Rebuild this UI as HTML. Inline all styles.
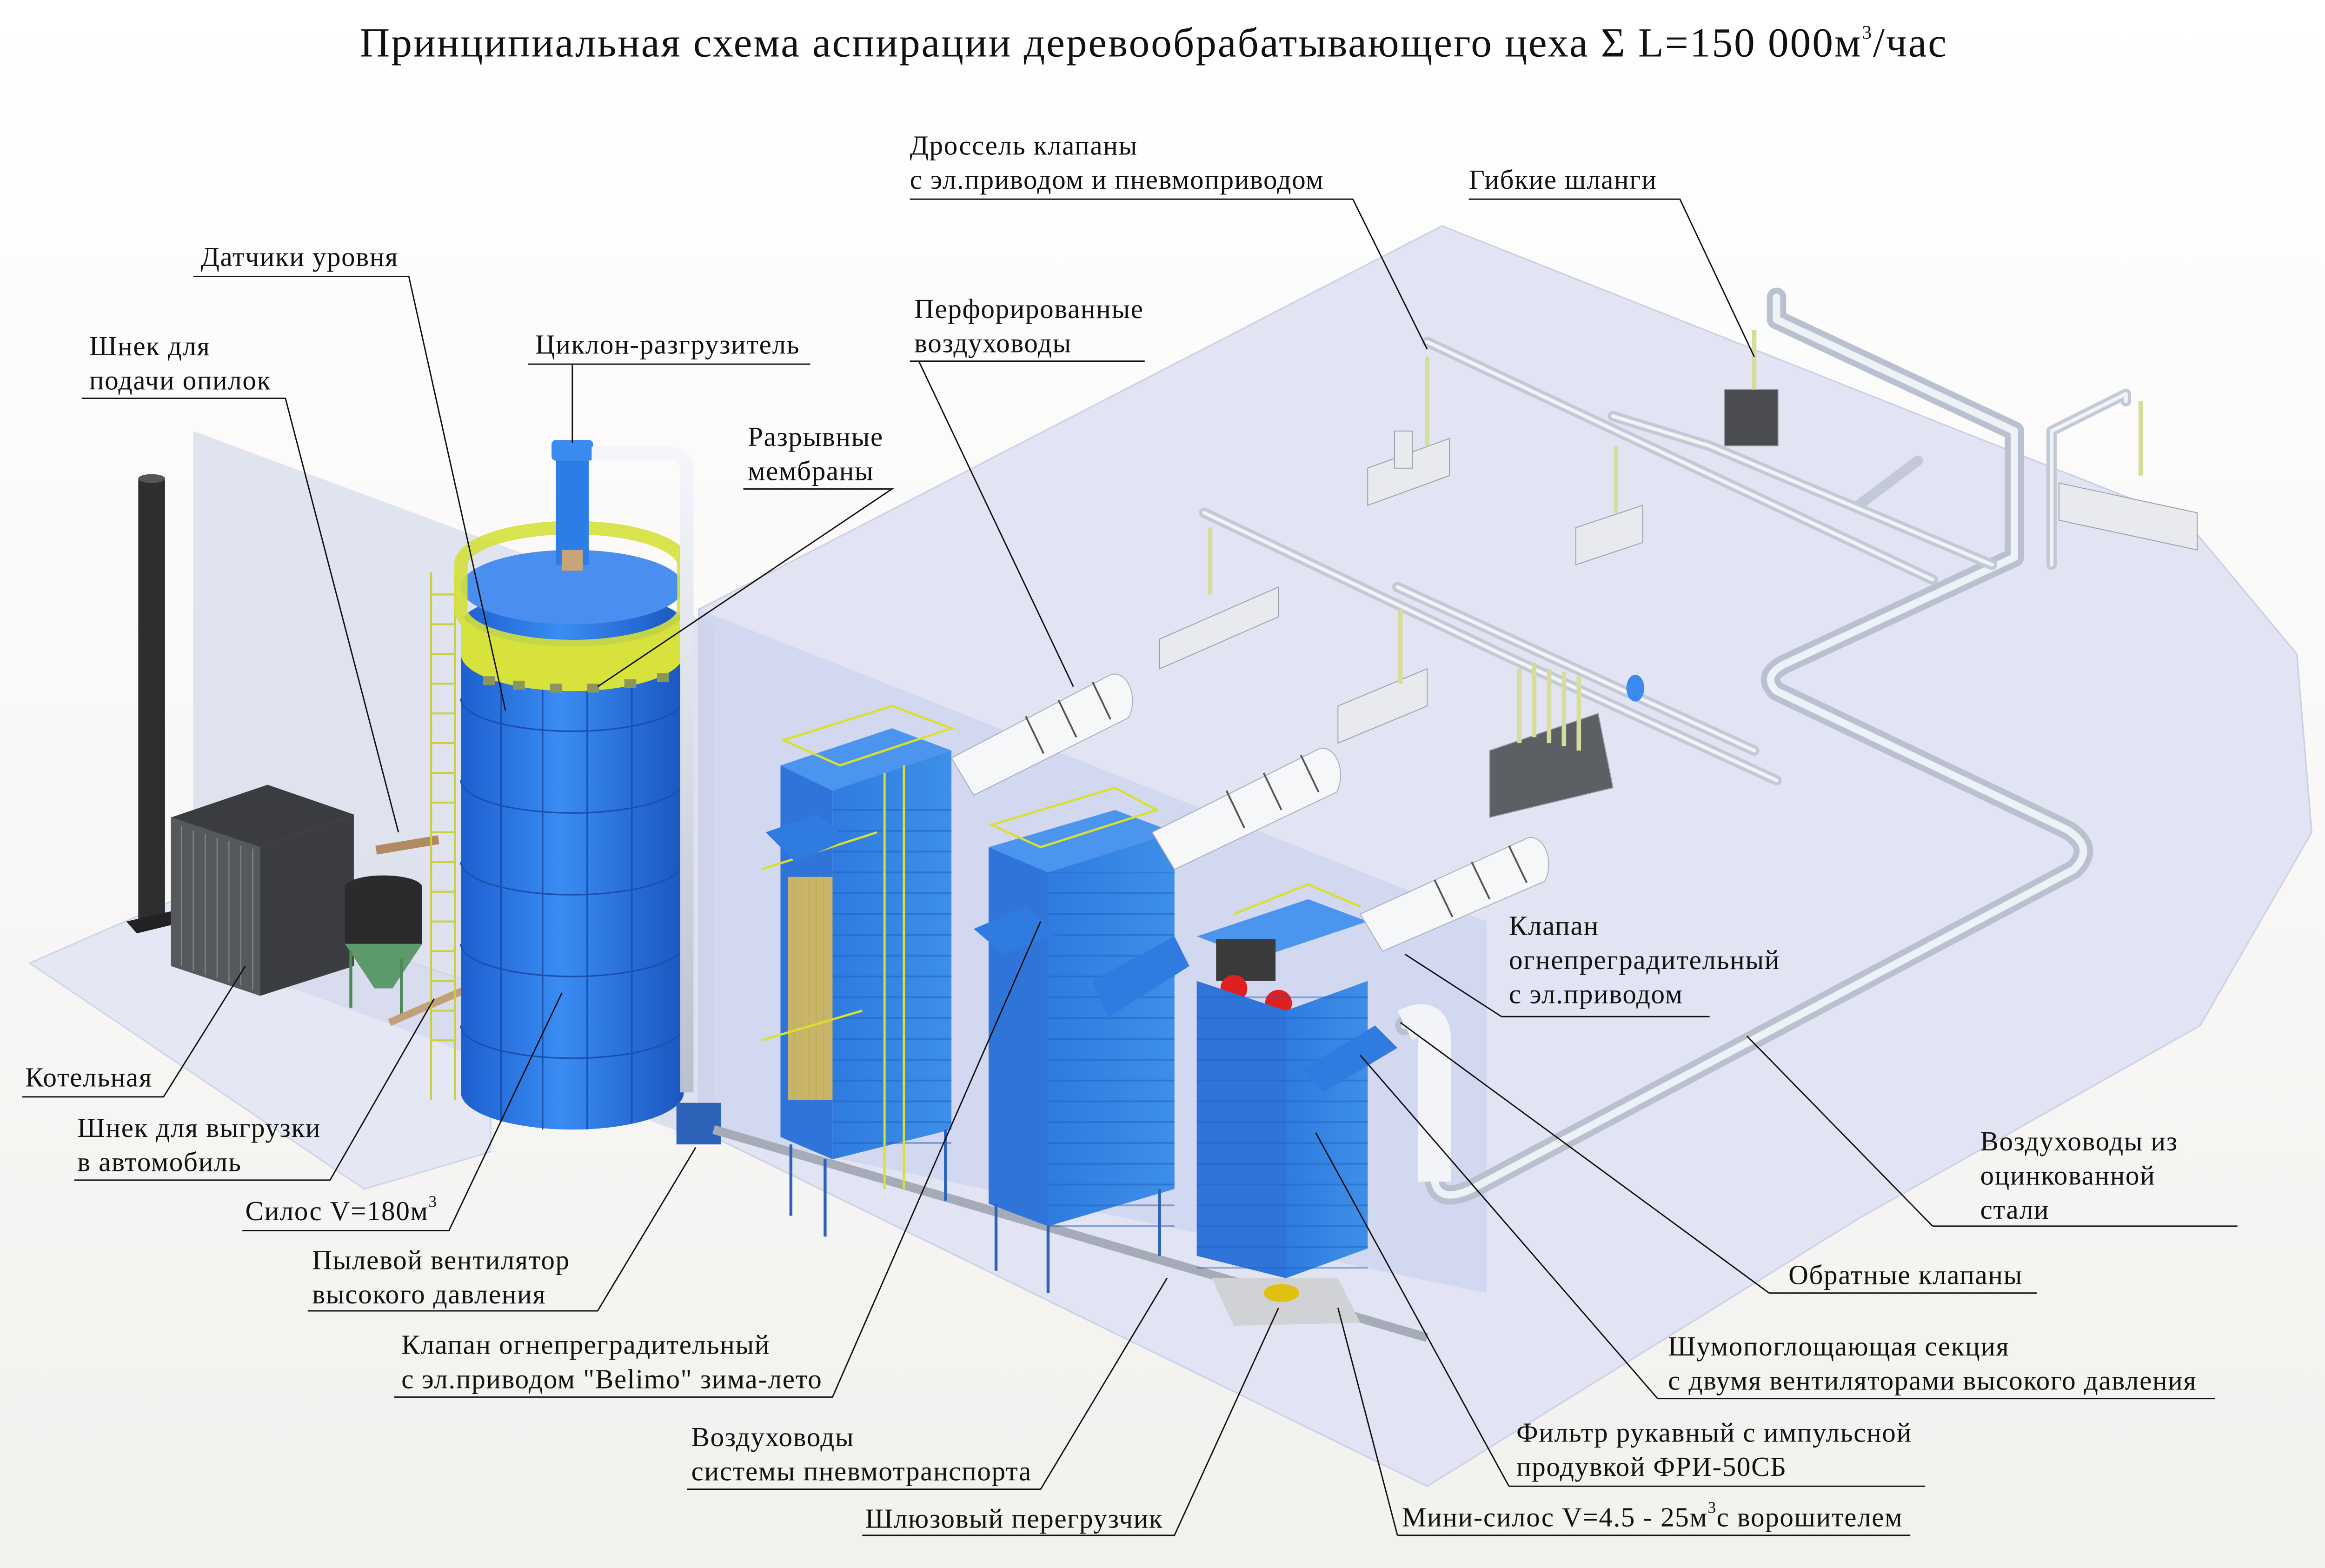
<!DOCTYPE html>
<html><head><meta charset="utf-8"><style>
html,body{margin:0;padding:0;background:#fff;}
svg{display:block;}
</style></head><body>
<svg width="5013" height="3372" viewBox="0 0 1568 1055" preserveAspectRatio="none" xmlns="http://www.w3.org/2000/svg">
<defs>
<linearGradient id="bg" x1="0" y1="0" x2="0" y2="1"><stop offset="0" stop-color="#ffffff"/><stop offset="1" stop-color="#f3f1ee"/></linearGradient>
<linearGradient id="silo" x1="0" x2="1"><stop offset="0" stop-color="#1d5fd0"/><stop offset="0.45" stop-color="#3a8cf2"/><stop offset="1" stop-color="#1a56c0"/></linearGradient>
<linearGradient id="blueF" x1="0" x2="1"><stop offset="0" stop-color="#2f7be0"/><stop offset="1" stop-color="#3d8fe8"/></linearGradient>
<linearGradient id="pipe" x1="0" x2="0" y1="0" y2="1"><stop offset="0" stop-color="#f4f6fa"/><stop offset="1" stop-color="#b9c0cf"/></linearGradient>
<pattern id="hl" width="10" height="14" patternUnits="userSpaceOnUse"><line x1="0" y1="13" x2="10" y2="13" stroke="#1f5fb8" stroke-width="1.2"/></pattern>
</defs>
<rect width="1568" height="1055" fill="url(#bg)"/>
<polygon points="470,410 970,152 1470,350 1545,440 1555,560 1480,690 1250,820 960,1000 470,760" fill="#e2e4f3" stroke="#ccd0e6" stroke-width="1"/>
<polygon points="470,410 1000,620 1000,870 470,760" fill="#c6cdee" opacity="0.55"/>
<polygon points="20,648 130,600 330,665 330,775 245,800" fill="#e5e8f4" stroke="#cfd4e6"/>
<polygon points="130,290 480,420 480,770 130,640" fill="#cfd4ea" opacity="0.6"/>
<rect x="93" y="322" width="18" height="300" fill="#2c2e30"/>
<ellipse cx="102" cy="322" rx="9" ry="3" fill="#555"/>
<polygon points="85,620 120,612 125,620 92,628" fill="#222"/>
<polygon points="115,550 180,528 238,548 175,570" fill="#3a3c40"/>
<polygon points="115,550 175,570 175,670 115,650" fill="#55585c"/>
<polygon points="175,570 238,548 238,650 175,670" fill="#3b3d40"/>
<g stroke="#888" stroke-width="0.7"><line x1="122" y1="556" x2="122" y2="650"/><line x1="130" y1="559" x2="130" y2="653"/><line x1="138" y1="561" x2="138" y2="656"/><line x1="146" y1="564" x2="146" y2="658"/><line x1="154" y1="566" x2="154" y2="661"/><line x1="162" y1="569" x2="162" y2="663"/><line x1="170" y1="571" x2="170" y2="666"/></g>
<path d="M232,597 a26,8 0 0 1 52,0 v38 l-20,30 h-12 l-20,-30z" fill="#2a2b2c"/>
<polygon points="232,635 284,635 264,665 252,665" fill="#5c9a6c"/>
<line x1="236" y1="640" x2="236" y2="678" stroke="#4b8a58" stroke-width="2"/><line x1="270" y1="645" x2="270" y2="685" stroke="#4b8a58" stroke-width="2"/>
<line x1="253" y1="572" x2="295" y2="565" stroke="#b08a60" stroke-width="6"/>
<line x1="262" y1="688" x2="345" y2="652" stroke="#c4a07a" stroke-width="5"/>
<g stroke="#c8d040" stroke-width="1.3" fill="none"><line x1="290" y1="385" x2="290" y2="740"/><line x1="306" y1="388" x2="306" y2="740"/>
<path d="M290,400h16M290,420h16M290,440h16M290,460h16M290,480h16M290,500h16M290,520h16M290,540h16M290,560h16M290,580h16M290,600h16M290,620h16M290,640h16M290,660h16M290,680h16M290,700h16"/></g>
<path d="M310,420 A75,22 0 0 1 460,420 V735 A75,25 0 0 1 310,735Z" fill="url(#silo)"/>
<g stroke="#1a4fae" stroke-width="1" fill="none">
<path d="M310,470 A75,22 0 0 0 460,470"/><path d="M310,525 A75,22 0 0 0 460,525"/><path d="M310,580 A75,22 0 0 0 460,580"/><path d="M310,635 A75,22 0 0 0 460,635"/><path d="M310,690 A75,22 0 0 0 460,690"/>
<line x1="337" y1="430" x2="337" y2="755"/><line x1="365" y1="437" x2="365" y2="760"/><line x1="395" y1="438" x2="395" y2="760"/><line x1="425" y1="433" x2="425" y2="755"/></g>
<ellipse cx="385" cy="395" rx="75" ry="25" fill="#4a8ff0"/>
<path d="M310,380 A75,25 0 0 1 460,380 V410 A75,25 0 0 1 310,410Z" fill="none" stroke="#d4e03a" stroke-width="9" opacity="0.9"/>
<path d="M310,410 A75,25 0 0 0 460,410 V440 A75,25 0 0 1 310,440Z" fill="#d8e23c"/>
<g fill="#8a9560"><rect x="325" y="455" width="8" height="6"/><rect x="345" y="458" width="8" height="6"/><rect x="370" y="460" width="8" height="6"/><rect x="395" y="460" width="8" height="6"/><rect x="420" y="457" width="8" height="6"/><rect x="442" y="453" width="8" height="6"/></g>
<rect x="374" y="300" width="22" height="80" fill="#2d7de6"/><rect x="371" y="296" width="28" height="14" rx="3" fill="#3a8af0"/><rect x="378" y="370" width="14" height="14" fill="#c9a47a"/>
<path d="M398,305 H450 Q462,305 462,318 V735" stroke="url(#pipe)" stroke-width="9" fill="none"/>
<rect x="455" y="742" width="30" height="28" fill="#2d63b8"/>
<line x1="480" y1="760" x2="960" y2="900" stroke="#a5acb8" stroke-width="6"/>
<polygon points="525,515 600,490 640,505 560,532" fill="#4b95ef"/>
<polygon points="525,515 560,532 560,780 525,765" fill="#2f74d8"/>
<polygon points="560,532 640,505 640,760 560,780" fill="url(#blueF)"/>
<rect x="560" y="532" width="80" height="248" fill="url(#hl)" opacity="0.5"/>
<rect x="530" y="590" width="30" height="150" fill="#c9b56a"/>
<g stroke="#c4b050" stroke-width="0.8"><line x1="534" y1="590" x2="534" y2="740"/><line x1="539" y1="590" x2="539" y2="740"/><line x1="544" y1="590" x2="544" y2="740"/><line x1="549" y1="590" x2="549" y2="740"/><line x1="554" y1="590" x2="554" y2="740"/></g>
<g stroke="#d8e030" stroke-width="1.5" fill="none"><path d="M527,498 L600,475 L640,490 L565,515Z"/><line x1="595" y1="520" x2="595" y2="800"/><line x1="608" y1="515" x2="608" y2="800"/><path d="M512,585 L590,560 M512,700 L580,680"/></g>
<polygon points="515,560 550,548 570,565 535,580" fill="#2f7be0"/>
<g stroke="#2a63b8" stroke-width="2"><line x1="532" y1="770" x2="532" y2="818"/><line x1="555" y1="780" x2="555" y2="832"/><line x1="636" y1="760" x2="636" y2="808"/></g>
<polygon points="665,570 750,545 790,560 705,587" fill="#4b95ef"/>
<polygon points="665,570 705,587 705,825 665,810" fill="#2f74d8"/>
<polygon points="705,587 790,560 790,800 705,825" fill="url(#blueF)"/>
<rect x="705" y="587" width="85" height="240" fill="url(#hl)" opacity="0.5"/>
<g stroke="#d8e030" stroke-width="1.5" fill="none"><path d="M667,555 L750,530 L778,545 L700,570Z"/></g>
<polygon points="655,625 690,610 712,628 675,642" fill="#2f7be0"/>
<polygon points="735,660 790,630 800,650 745,685" fill="#2f7be0"/>
<g stroke="#2a63b8" stroke-width="2"><line x1="670" y1="810" x2="670" y2="855"/><line x1="705" y1="825" x2="705" y2="870"/><line x1="780" y1="800" x2="780" y2="845"/></g>
<polygon points="805,630 880,605 920,620 845,645" fill="#4b95ef"/>
<rect x="818" y="632" width="40" height="28" fill="#3a3a3a"/>
<circle cx="830" cy="665" r="9" fill="#e02020"/><circle cx="860" cy="675" r="9" fill="#e02020"/>
<polygon points="805,660 865,680 865,860 805,845" fill="#2f74d8"/>
<polygon points="865,680 920,660 920,840 865,860" fill="url(#blueF)"/>
<rect x="805" y="660" width="115" height="200" fill="url(#hl)" opacity="0.45"/>
<polygon points="875,720 925,690 940,705 890,735" fill="#2f7be0"/>
<g stroke="#d8e030" stroke-width="1.5" fill="none"><path d="M830,615 L880,595 L915,610"/></g>
<polygon points="815,860 900,860 915,890 830,892" fill="#d0d2d6"/>
<ellipse cx="862" cy="870" rx="12" ry="6" fill="#e0c010"/>
<path d="M640,510 L745,455 a12,18 0 0 1 14,28 L655,535Z" fill="#f6f7f9" stroke="#aab" stroke-width="0.6"/>
<path d="M775,560 L885,505 a12,18 0 0 1 14,28 L790,585Z" fill="#f6f7f9" stroke="#aab" stroke-width="0.6"/>
<path d="M915,615 L1025,565 a12,18 0 0 1 14,28 L930,640Z" fill="#f6f7f9" stroke="#aab" stroke-width="0.6"/>
<g stroke="#555" stroke-width="1.2"><line x1="690" y1="482" x2="702" y2="507"/><line x1="712" y1="471" x2="724" y2="496"/><line x1="735" y1="459" x2="747" y2="484"/><line x1="825" y1="532" x2="837" y2="557"/><line x1="850" y1="520" x2="862" y2="545"/><line x1="875" y1="508" x2="887" y2="533"/><line x1="965" y1="592" x2="977" y2="617"/><line x1="990" y1="580" x2="1002" y2="605"/><line x1="1015" y1="569" x2="1027" y2="594"/></g>
<g fill="none" stroke-linecap="round" stroke-linejoin="round">
<path d="M945,690 Q965,680 965,700 V795 Q968,810 990,800 L1395,585 Q1410,570 1390,558 L1195,465 Q1185,455 1200,447 L1355,375 V290 L1195,215 V200" stroke="#b9c0cf" stroke-width="13"/>
<path d="M945,690 Q965,680 965,700 V795 Q968,810 990,800 L1395,585 Q1410,570 1390,558 L1195,465 Q1185,455 1200,447 L1355,375 V290 L1195,215 V200" stroke="#eef1f6" stroke-width="5"/>
<path d="M810,345 L1010,440 L1195,525 M960,230 L1300,390 M1085,280 L1150,300 L1340,380 M1380,380 V290 L1430,265 V270 M940,395 L1180,505 M1250,340 L1290,310" stroke="#c3c9d6" stroke-width="7"/>
<path d="M810,345 L1010,440 L1195,525 M960,230 L1300,390 M1085,280 L1150,300 L1340,380 M1380,380 V290 L1430,265 V270 M940,395 L1180,505" stroke="#f1f3f7" stroke-width="2.5"/>
</g>
<ellipse cx="1100" cy="463" rx="6" ry="9" fill="#3a8af0"/>
<g fill="#e8eaee" stroke="#9aa0aa" stroke-width="0.6">
<polygon points="920,315 975,295 975,320 920,340"/><rect x="938" y="290" width="12" height="25"/>
<polygon points="780,430 860,395 860,415 780,450"/>
<polygon points="900,475 960,450 960,475 900,500"/>
<polygon points="1060,355 1105,340 1105,365 1060,380"/>
<polygon points="1385,325 1478,345 1478,370 1385,350"/>
<rect x="1160" y="262" width="36" height="38" fill="#4a4c50"/>
<polygon points="1002,505 1075,480 1085,530 1002,550" fill="#5c5f64"/>
</g>
<g stroke="#d6dc9a" stroke-width="3"><line x1="1022" y1="450" x2="1022" y2="500"/><line x1="1032" y1="446" x2="1032" y2="496"/><line x1="1042" y1="450" x2="1042" y2="500"/><line x1="1052" y1="452" x2="1052" y2="502"/><line x1="1062" y1="455" x2="1062" y2="505"/><line x1="814" y1="355" x2="814" y2="400"/><line x1="942" y1="410" x2="942" y2="460"/><line x1="960" y1="240" x2="960" y2="300"/><line x1="1087" y1="300" x2="1087" y2="345"/><line x1="1180" y1="222" x2="1180" y2="262"/><line x1="1440" y1="270" x2="1440" y2="320"/></g>
<path d="M945,690 Q965,680 965,700 V795" stroke="#f2f4f8" stroke-width="22" fill="none"/>
<text x="242" y="38" font-size="28" letter-spacing="0.9" font-family="Liberation Serif, DejaVu Serif, serif" fill="#111">Принципиальная схема аспирации деревообрабатывающего цеха Σ L=150 000м<tspan font-size="13" dy="-12">3</tspan><tspan dy="12">/час</tspan></text>
<g font-size="18.5" letter-spacing="0.5" font-family="Liberation Serif, DejaVu Serif, serif" fill="#111">
<text x="612" y="104">Дроссель клапаны</text><text x="612" y="127">с эл.приводом и пневмоприводом</text>
<text x="988" y="127">Гибкие шланги</text>
<text x="135" y="179">Датчики уровня</text>
<text x="60" y="239">Шнек для</text><text x="60" y="262">подачи опилок</text>
<text x="360" y="238">Циклон-разгрузитель</text>
<text x="615" y="214">Перфорированные</text><text x="615" y="237">воздуховоды</text>
<text x="503" y="300">Разрывные</text><text x="503" y="323">мембраны</text>
<text x="1015" y="629">Клапан</text><text x="1015" y="652">огнепреградительный</text><text x="1015" y="675">с эл.приводом</text>
<text x="17" y="731">Котельная</text>
<text x="52" y="765">Шнек для выгрузки</text><text x="52" y="788">в автомобиль</text>
<text x="165" y="821">Силос V=180м<tspan font-size="11" dy="-9">3</tspan></text>
<text x="1332" y="774">Воздуховоды из</text><text x="1332" y="797">оцинкованной</text><text x="1332" y="820">стали</text>
<text x="210" y="854">Пылевой вентилятор</text><text x="210" y="877">высокого давления</text>
<text x="1203" y="864">Обратные клапаны</text>
<text x="270" y="911">Клапан огнепреградительный</text><text x="270" y="934">с эл.приводом "Belimo" зима-лето</text>
<text x="1122" y="912">Шумопоглощающая секция</text><text x="1122" y="935">с двумя вентиляторами высокого давления</text>
<text x="465" y="973">Воздуховоды</text><text x="465" y="996">системы пневмотранспорта</text>
<text x="1020" y="970">Фильтр рукавный с импульсной</text><text x="1020" y="993">продувкой ФРИ-50СБ</text>
<text x="582" y="1028">Шлюзовый перегрузчик</text>
<text x="943" y="1027">Мини-силос V=4.5 - 25м<tspan font-size="11" dy="-9">3</tspan><tspan dy="9">с ворошителем</tspan></text>
</g>
<g stroke="#111" stroke-width="0.9" fill="none">
<path d="M612,134 H910 L960,235"/><path d="M988,134 H1130 L1180,240"/>
<path d="M130,186 H275 L340,478"/><path d="M55,268 H192 L268,560"/>
<path d="M355,245 H545"/><path d="M385,245 L385,298"/>
<path d="M612,243 H770"/><path d="M618,243 L722,462"/>
<path d="M500,329 H600 L402,462"/>
<path d="M1010,684 H1150"/><path d="M1010,684 L945,642"/>
<path d="M15,738 H110 L165,650"/><path d="M50,794 H222 L292,672"/>
<path d="M163,828 H302 L378,668"/><path d="M1300,825 H1505"/><path d="M1300,825 L1175,697"/>
<path d="M207,882 H402 L468,772"/><path d="M1190,870 H1370"/><path d="M1190,870 L942,688"/>
<path d="M265,940 H560 L700,620"/><path d="M1115,941 H1490"/><path d="M1115,941 L915,710"/>
<path d="M462,1002 H700 L785,860"/><path d="M1015,1000 H1295"/><path d="M1015,1000 L885,762"/>
<path d="M580,1033 H790 L860,880"/><path d="M940,1033 H1285"/><path d="M940,1033 L900,880"/>
</g>
</svg>
</body></html>
